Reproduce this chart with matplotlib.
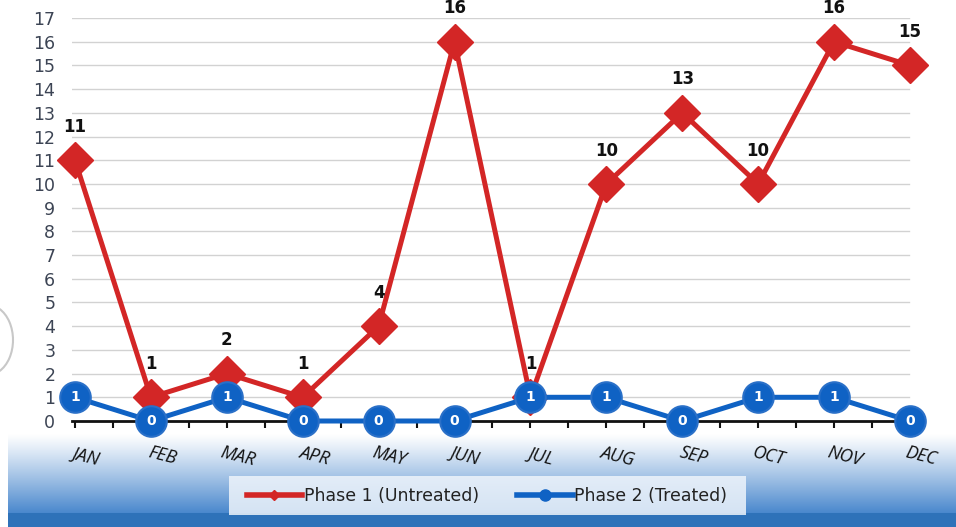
import matplotlib
matplotlib.use("Agg")
import matplotlib.pyplot as plt
import numpy as np
from matplotlib.lines import Line2D
from matplotlib.patches import Rectangle, Arc

months = ["JAN", "FEB", "MAR", "APR", "MAY", "JUN", "JUL", "AUG", "SEP", "OCT", "NOV", "DEC"]
phase1 = [11, 1, 2, 1, 4, 16, 1, 10, 13, 10, 16, 15]
phase2 = [1, 0, 1, 0, 0, 0, 1, 1, 0, 1, 1, 0]
yticks = list(range(0, 18))

red = "#d32626"
blue = "#0f62c4"

W, H = 956, 527
fig = plt.figure(figsize=(W / 100, H / 100), dpi=100)
fig.patch.set_facecolor("white")

# blue gradient band along the bottom
bg = fig.add_axes([0, 0, 1, 1], zorder=0)
bg.set_xlim(0, W)
bg.set_ylim(H, 0)
bg.axis("off")
t = np.linspace(0, 1, 200)[:, None]
top = np.array([1.0, 1.0, 1.0])
bot = np.array([0.27, 0.52, 0.80])
grad = top + (bot - top) * (t ** 1.1)
grad = np.repeat(grad[:, None, :], 2, axis=1).reshape(200, 2, 3)
bg.imshow(grad, extent=[8, W, 515, 434], aspect="auto", interpolation="bicubic")
bg.add_patch(Rectangle((8, 513), W - 8, 14, color="#2e72b9", lw=0))
bg.add_patch(Arc((-12, 340), 50, 70, theta1=-70, theta2=70, color="#c8c8c8", lw=1.5))

# plot area: JAN at x=75, DEC at x=910; 0 at y=421, 17 at y=18
step = (910 - 75) / 11
x0 = 72
x1 = 913
ax = fig.add_axes([x0 / W, (H - 421) / H, (x1 - x0) / W, (421 - 18) / H], zorder=2)
ax.patch.set_alpha(0)
ax.set_xlim((x0 - 75) / step, (x1 - 75) / step)
ax.set_ylim(0, 17)

x = np.arange(len(months))
for v in yticks[1:]:
    ax.axhline(v, xmax=0.995, color="#d2d2d2", lw=1, zorder=1)

ax.plot(x, phase1, color=red, lw=3.6, marker="D", ms=18, mfc=red, mec=red,
        zorder=4, clip_on=False)
ax.plot(x, phase2, color=blue, lw=3.6, marker="o", ms=22, mfc=blue, mec="#2a70c8",
        mew=1.5, zorder=5, clip_on=False)

for xi, v in zip(x, phase1):
    ax.annotate(str(v), (xi, v), xytext=(0, 24), textcoords="offset points",
                ha="center", va="center", fontsize=12, fontweight="bold",
                color="#111111", zorder=6)
for xi, v in zip(x, phase2):
    ax.text(xi, v, str(v), ha="center", va="center", fontsize=10,
            fontweight="bold", color="white", zorder=6)

for s in ["top", "right", "left"]:
    ax.spines[s].set_visible(False)
ax.spines["bottom"].set_color("#111111")
ax.spines["bottom"].set_linewidth(2)

ax.set_yticks(yticks)
ax.set_yticklabels([str(v) for v in yticks], fontsize=12.5, color="#3c4454")
ax.tick_params(axis="y", length=0, pad=12)

ax.set_xticks(np.arange(0, 11.01, 0.5))
ax.set_xticklabels([])
ax.tick_params(axis="x", length=5, width=1.5, color="#111111", direction="out")

for xi, m in zip(x, months):
    ax.annotate(m, (xi, 0), xytext=(11, -35), textcoords="offset pixels",
                ha="center", va="center", fontsize=13, style="italic",
                rotation=-14, color="#111111", family="Open Sans")

# legend box
bg.add_patch(Rectangle((229, 476), 517, 39, color="#eef4fb", alpha=0.85, lw=0, zorder=3))
handles = [
    Line2D([], [], color=red, lw=4, marker="D", ms=5),
    Line2D([], [], color=blue, lw=4, marker="o", ms=8),
]
fig.legend(handles, ["Phase 1 (Untreated)", "Phase 2 (Treated)"],
           loc="center", bbox_to_anchor=(487 / W, 1 - 496 / H), ncol=2,
           frameon=False, fontsize=12.5, handlelength=3.2, handletextpad=0.1,
           columnspacing=2.2, labelcolor="#222222")

fig.savefig("out.png", dpi=100)
